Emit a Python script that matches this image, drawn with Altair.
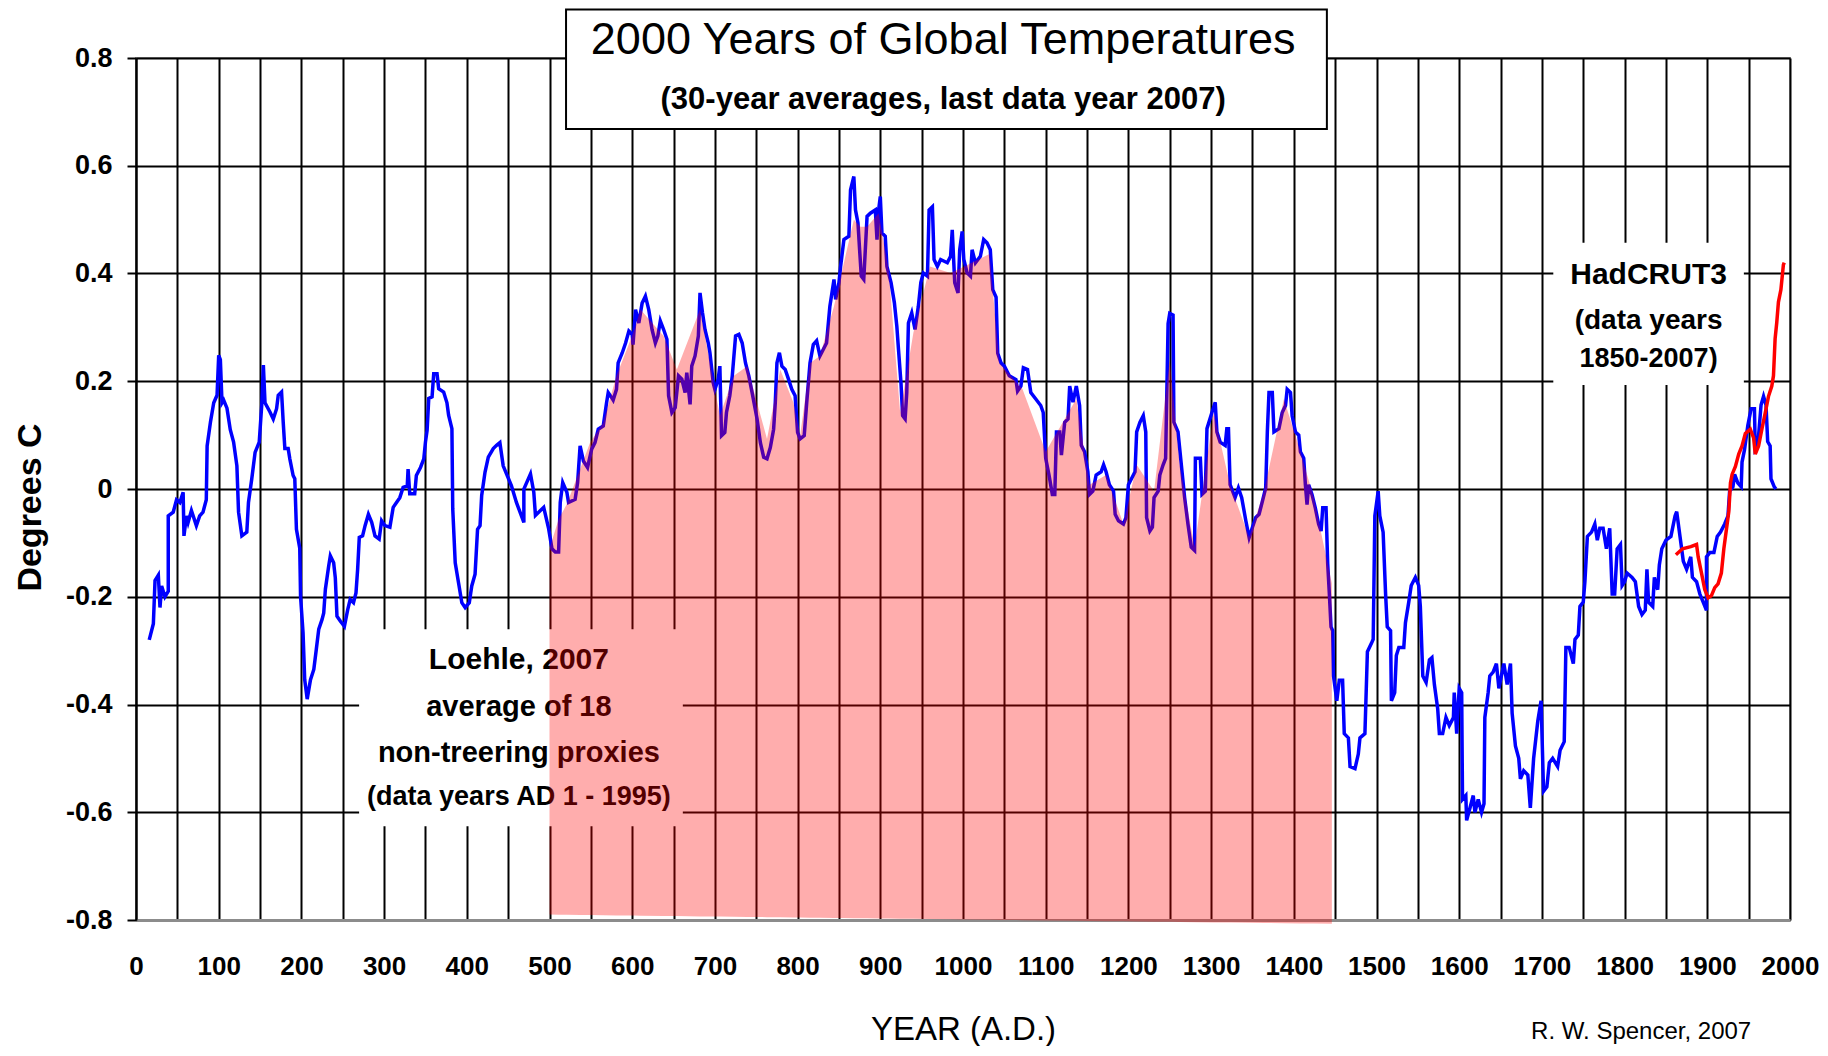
import altair as alt
import pandas as pd

# ---------------- data ----------------
# Loehle (2007) 30-year averages (blue)
loehle_year = [16, 21, 23, 27, 29, 31, 35, 39, 39, 45, 49, 53, 57, 58, 61, 63, 67, 73, 77, 81, 85, 86, 90, 94, 98,
               100, 102, 104, 106, 110, 114, 118, 122, 124, 128, 134, 136, 140, 144, 149, 152, 154, 156, 162, 166,
               170, 172, 176, 178, 180, 184, 186, 190, 192, 194, 198, 199, 202, 204, 207, 211, 215, 218, 221, 225,
               227, 229, 233, 235, 239, 241, 243, 247, 252, 256, 259, 263, 266, 268, 270, 274, 277, 281, 285, 289,
               294, 297, 301, 307, 311, 315, 319, 323, 328, 329, 331, 337, 339, 344, 348, 350, 352, 354, 358, 360,
               364, 366, 372, 376, 378, 382, 383, 386, 390, 394, 398, 403, 406, 410, 413, 416, 418, 422, 426, 432,
               436, 440, 444, 454, 460, 469, 469, 477, 481, 483, 493, 499, 503, 507, 511, 513, 516, 521, 523, 531,
               534, 537, 541, 546, 551, 555, 559, 565, 569, 571, 575, 577, 581, 583, 588, 592, 596, 600, 601, 604,
               608, 612, 616, 620, 624, 628, 631, 634, 638, 642, 644, 648, 652, 656, 660, 664, 666, 670, 672, 676,
               680, 682, 685, 688, 692, 694, 698, 700, 704, 706, 708, 712, 714, 718, 721, 725, 729, 733, 737, 741,
               745, 751, 755, 759, 763, 767, 771, 773, 775, 778, 781, 785, 789, 793, 797, 800, 803, 808, 811, 815,
               819, 823, 827, 831, 835, 839, 844, 846, 850, 852, 856, 862, 864, 868, 870, 873, 875, 877, 880, 884,
               888, 894, 896, 898, 900, 902, 906, 908, 913, 917, 920, 922, 925, 927, 930, 932, 934, 938, 942, 946,
               949, 952, 957, 959, 963, 965, 969, 973, 981, 985, 987, 990, 994, 996, 999, 1001, 1005, 1009, 1011,
               1015, 1021, 1025, 1029, 1033, 1036, 1040, 1042, 1046, 1050, 1056, 1064, 1066, 1070, 1073, 1078,
               1082, 1088, 1094, 1097, 1100, 1104, 1108, 1111, 1113, 1117, 1119, 1123, 1127, 1129, 1133, 1137,
               1141, 1143, 1147, 1151, 1153, 1157, 1161, 1167, 1170, 1173, 1177, 1182, 1184, 1188, 1194, 1197,
               1200, 1204, 1208, 1210, 1214, 1218, 1221, 1222, 1226, 1229, 1231, 1236, 1238, 1242, 1245, 1248,
               1250, 1254, 1255, 1260, 1264, 1268, 1272, 1276, 1280, 1281, 1287, 1289, 1293, 1295, 1301, 1305,
               1307, 1311, 1317, 1319, 1321, 1323, 1329, 1333, 1337, 1342, 1346, 1350, 1354, 1358, 1362, 1366,
               1368, 1370, 1374, 1376, 1382, 1386, 1390, 1392, 1396, 1398, 1402, 1406, 1408, 1412, 1414, 1416,
               1418, 1422, 1426, 1430, 1433, 1435, 1439, 1441, 1443, 1445, 1447, 1448, 1452, 1455, 1459, 1461,
               1466, 1468, 1474, 1478, 1480, 1486, 1489, 1494, 1496, 1498, 1502, 1504, 1508, 1511, 1513, 1517,
               1518, 1522, 1524, 1527, 1533, 1535, 1539, 1542, 1547, 1551, 1553, 1556, 1560, 1564, 1567, 1570,
               1574, 1576, 1580, 1584, 1588, 1593, 1594, 1597, 1600, 1603, 1604, 1608, 1609, 1613, 1617, 1619,
               1623, 1627, 1630, 1631, 1635, 1637, 1641, 1645, 1648, 1654, 1658, 1662, 1664, 1668, 1672, 1674,
               1678, 1683, 1686, 1690, 1695, 1699, 1702, 1706, 1709, 1713, 1719, 1722, 1727, 1729, 1733, 1738,
               1740, 1744, 1746, 1750, 1752, 1755, 1760, 1764, 1767, 1770, 1774, 1778, 1782, 1785, 1788, 1791,
               1795, 1797, 1800, 1803, 1809, 1813, 1817, 1821, 1825, 1827, 1829, 1834, 1836, 1840, 1842, 1845,
               1850, 1856, 1861, 1863, 1867, 1871, 1875, 1880, 1882, 1887, 1891, 1895, 1899, 1899, 1903, 1908,
               1912, 1916, 1921, 1925, 1927, 1931, 1933, 1937, 1941, 1942, 1945, 1949, 1953, 1957, 1958, 1961,
               1965, 1968, 1971, 1973, 1976, 1977, 1981, 1983]
loehle_temp = [-0.28, -0.25, -0.17, -0.16, -0.22, -0.18, -0.2, -0.19, -0.05, -0.043, -0.02, -0.025, -0.006, -0.087,
               -0.05, -0.062, -0.04, -0.068, -0.05, -0.043, -0.02, 0.08, 0.124, 0.16, 0.174, 0.248, 0.24, 0.16,
               0.165, 0.15, 0.11, 0.087, 0.043, -0.043, -0.087, -0.08, -0.025, 0.019, 0.068, 0.087, 0.155, 0.23,
               0.16, 0.143, 0.13, 0.149, 0.174, 0.18, 0.124, 0.075, 0.075, 0.056, 0.025, 0.019, -0.075, -0.11,
               -0.2, -0.267, -0.354, -0.39, -0.354, -0.335, -0.298, -0.26, -0.242, -0.23, -0.186, -0.143, -0.124,
               -0.137, -0.165, -0.236, -0.245, -0.255, -0.224, -0.205, -0.211, -0.193, -0.149, -0.09, -0.087,
               -0.068, -0.047, -0.062, -0.087, -0.093, -0.059, -0.068, -0.071, -0.034, -0.025, -0.016, 0.003,
               0.006, 0.037, -0.009, -0.009, 0.025, 0.04, 0.056, 0.087, 0.109, 0.168, 0.171, 0.214, 0.214, 0.186,
               0.18, 0.16, 0.137, 0.112, -0.037, -0.137, -0.174, -0.211, -0.22, -0.211, -0.18, -0.158, -0.075,
               -0.068, -0.012, 0.031, 0.059, 0.075, 0.081, 0.086, 0.043, 0.006, -0.025, -0.062, 0.0, 0.028,
               -0.006, -0.049, -0.034, -0.074, -0.111, -0.117, -0.117, -0.025, 0.012, -0.006, -0.025, -0.019,
               0.012, 0.08, 0.052, 0.04, 0.074, 0.086, 0.111, 0.117, 0.16, 0.179, 0.17, 0.165, 0.185, 0.234,
               0.253, 0.271, 0.293, 0.287, 0.268, 0.333, 0.308, 0.345, 0.358, 0.333, 0.296, 0.271, 0.284, 0.312,
               0.296, 0.278, 0.173, 0.142, 0.151, 0.21, 0.204, 0.179, 0.216, 0.157, 0.228, 0.247, 0.284, 0.364,
               0.327, 0.296, 0.271, 0.253, 0.197, 0.185, 0.204, 0.228, 0.099, 0.105, 0.142, 0.173, 0.21, 0.284,
               0.287, 0.271, 0.234, 0.21, 0.179, 0.13, 0.086, 0.059, 0.056, 0.077, 0.111, 0.16, 0.234, 0.253,
               0.228, 0.222, 0.204, 0.185, 0.173, 0.105, 0.093, 0.099, 0.16, 0.234, 0.268, 0.275, 0.247, 0.259,
               0.271, 0.339, 0.389, 0.352, 0.383, 0.413, 0.463, 0.469, 0.555, 0.58, 0.518, 0.494, 0.444, 0.395,
               0.389, 0.506, 0.512, 0.518, 0.463, 0.518, 0.543, 0.475, 0.469, 0.413, 0.383, 0.346, 0.302, 0.259,
               0.197, 0.136, 0.13, 0.179, 0.308, 0.327, 0.296, 0.339, 0.383, 0.401, 0.395, 0.518, 0.524, 0.426,
               0.413, 0.426, 0.42, 0.432, 0.481, 0.383, 0.364, 0.444, 0.478, 0.426, 0.401, 0.395, 0.444, 0.42,
               0.432, 0.463, 0.457, 0.444, 0.37, 0.356, 0.252, 0.234, 0.228, 0.21, 0.203, 0.182, 0.191, 0.225,
               0.222, 0.179, 0.167, 0.155, 0.142, 0.057, 0.026, -0.01, -0.01, 0.106, 0.106, 0.063, 0.124, 0.13,
               0.191, 0.161, 0.191, 0.155, 0.081, 0.069, 0.032, -0.01, -0.004, 0.026, 0.032, 0.045, 0.032, 0.008,
               -0.004, -0.047, -0.059, -0.065, -0.053, 0.008, 0.02, 0.032, 0.106, 0.124, 0.136, 0.106, -0.053,
               -0.078, -0.071, -0.016, -0.004, 0.026, 0.045, 0.057, 0.307, 0.326, 0.323, 0.124, 0.106, 0.045,
               -0.016, -0.065, -0.108, -0.114, 0.057, 0.057, -0.01, -0.004, 0.112, 0.142, 0.161, 0.106, 0.087,
               0.081, 0.112, 0.112, 0.008, -0.016, 0.002, -0.016, -0.059, -0.09, -0.071, -0.053, -0.047, -0.023,
               0.002, 0.106, 0.179, 0.179, 0.106, 0.112, 0.142, 0.155, 0.185, 0.179, 0.136, 0.106, 0.1, 0.069,
               0.057, 0.008, -0.029, 0.008, -0.01, -0.035, -0.065, -0.078, -0.035, -0.035, -0.139, -0.195, -0.256,
               -0.263, -0.347, -0.393, -0.355, -0.355, -0.454, -0.462, -0.515, -0.519, -0.492, -0.462, -0.454,
               -0.302, -0.286, -0.279, -0.05, -0.004, -0.05, -0.08, -0.195, -0.256, -0.263, -0.393, -0.378,
               -0.309, -0.294, -0.294, -0.248, -0.21, -0.179, -0.164, -0.179, -0.218, -0.347, -0.359, -0.317,
               -0.313, -0.363, -0.408, -0.454, -0.454, -0.424, -0.439, -0.424, -0.378, -0.454, -0.37, -0.378,
               -0.576, -0.569, -0.615, -0.592, -0.569, -0.6, -0.576, -0.6, -0.584, -0.424, -0.378, -0.347, -0.34,
               -0.324, -0.37, -0.324, -0.363, -0.324, -0.416, -0.477, -0.5, -0.538, -0.523, -0.531, -0.592, -0.5,
               -0.431, -0.393, -0.561, -0.553, -0.508, -0.5, -0.515, -0.485, -0.469, -0.294, -0.294, -0.324,
               -0.279, -0.271, -0.218, -0.21, -0.172, -0.088, -0.08, -0.065, -0.095, -0.073, -0.073, -0.111,
               -0.073, -0.195, -0.195, -0.111, -0.103, -0.179, -0.172, -0.156, -0.164, -0.172, -0.218, -0.233,
               -0.225, -0.149, -0.21, -0.218, -0.164, -0.187, -0.141, -0.111, -0.095, -0.088, -0.05, -0.042,
               -0.088, -0.134, -0.149, -0.126, -0.164, -0.172, -0.195, -0.21, -0.225, -0.126, -0.118, -0.118,
               -0.088, -0.08, -0.065, -0.05, -0.004, 0.004, 0.027, 0.011, 0.004, 0.05, 0.073, 0.118, 0.149, 0.149,
               0.073, 0.08, 0.156, 0.172, 0.156, 0.088, 0.08, 0.019, 0.004, 0.0]

# HadCRUT3 30-year averages (red)
had_year = [1862, 1870, 1880, 1887, 1889, 1893, 1897, 1901, 1905, 1909, 1913, 1917, 1920, 1924, 1926, 1928,
            1930, 1934, 1938, 1942, 1946, 1952, 1956, 1958, 1962, 1966, 1970, 1974, 1978, 1980, 1982, 1984,
            1986, 1989, 1992, 1993]
had_temp = [-0.122, -0.111, -0.107, -0.103, -0.126, -0.156, -0.187, -0.202, -0.198, -0.183, -0.176, -0.156,
            -0.111, -0.065, -0.042, 0.011, 0.027, 0.042, 0.065, 0.08, 0.103, 0.111, 0.095, 0.065, 0.08, 0.111,
            0.141, 0.172, 0.191, 0.21, 0.279, 0.309, 0.347, 0.37, 0.416, 0.42]

# shaded (pink) region outline, AD 500 - 1446
pink_year = [500, 511, 521, 537, 549, 565, 581, 602, 610, 638, 654, 682, 706, 723, 739, 763, 779, 795, 803,
             815, 827, 844, 856, 868, 876, 884, 898, 910, 924, 940, 960, 985, 999, 1032, 1044, 1072, 1100,
             1137, 1153, 1173, 1194, 1210, 1231, 1250, 1262, 1280, 1303, 1323, 1346, 1364, 1388, 1408, 1424,
             1446]
pink_top = [-0.111, -0.056, -0.028, 0.037, 0.086, 0.123, 0.21, 0.293, 0.333, 0.284, 0.222, 0.333, 0.136,
            0.21, 0.228, 0.093, 0.222, 0.16, 0.099, 0.234, 0.247, 0.339, 0.42, 0.5, 0.487, 0.487, 0.512, 0.407,
            0.142, 0.29, 0.413, 0.401, 0.411, 0.436, 0.234, 0.185, 0.069, 0.167, 0.008, 0.026, -0.065, 0.045,
            -0.004, 0.24, 0.045, -0.108, 0.142, 0.008, -0.09, -0.004, 0.167, 0.069, -0.016, -0.175]
pink_base_start = -0.79
pink_base_end = -0.807

x_grid_years = list(range(0, 2001, 50))
y_tick_values = [-0.8, -0.6, -0.4, -0.2, 0, 0.2, 0.4, 0.6, 0.8]

# ---------------- styling ----------------
SANS = "Liberation Sans, Arial, sans-serif"

xscale = alt.Scale(domain=[0, 2000], nice=False, zero=False)
yscale = alt.Scale(domain=[-0.8, 0.8], nice=False, zero=False)

xaxis = alt.Axis(
    values=x_grid_years, grid=True, gridColor="black", gridWidth=2, gridOpacity=1,
    ticks=False, tickSize=0, domainColor="#8c8c8c", domainWidth=3,
    labelExpr="datum.value % 100 == 0 ? format(datum.value, 'd') : ''",
    labelFont=SANS, labelFontWeight="bold", labelFontSize=26, labelColor="black",
    labelPadding=33, labelOverlap=False, labelFlush=False,
    title="YEAR (A.D.)", titleFont=SANS, titleFontSize=33, titleFontWeight="normal",
    titleColor="black", titleX=827, titleY=109, titleAlign="center", titleBaseline="middle",
)
yaxis = alt.Axis(
    values=y_tick_values, grid=True, gridColor="black", gridWidth=2, gridOpacity=1,
    ticks=True, tickSize=9, tickWidth=2, tickColor="black",
    domainColor="black", domainWidth=2,
    labelExpr="datum.value == 0 ? '0' : (datum.value < 0 ? '-' : '') + format(abs(datum.value), '.1f')",
    labelFont=SANS, labelFontWeight="bold", labelFontSize=27, labelColor="black",
    labelPadding=15, labelOverlap=False, labelFlush=False,
    title="Degrees C", titleFont=SANS, titleFontSize=34, titleFontWeight="bold", titleColor="black",
    titleAngle=270, titleX=-106, titleY=449, titleAlign="center", titleBaseline="middle",
)

X = alt.X("year:Q", scale=xscale, axis=xaxis)
Y = alt.Y("temp:Q", scale=yscale, axis=yaxis)

# ---------------- layers ----------------
boxes = pd.DataFrame({
    "year": [520, 271, 1715],
    "year2": [1440, 660, 1943],
    "temp": [0.668, -0.262, 0.195],
    "temp2": [0.89, -0.624, 0.455],
    "stroke": ["black", "white", "white"],
})
box_layer = alt.Chart(boxes).mark_rect(fill="white", strokeWidth=2).encode(
    x=X, x2="year2:Q", y=Y, y2="temp2:Q",
    stroke=alt.Stroke("stroke:N", scale=None),
)


def text_layer(year, temp, label, size, weight="bold", font=SANS, align="center"):
    df = pd.DataFrame({"year": [year], "temp": [temp], "label": [label]})
    return alt.Chart(df).mark_text(
        font=font, fontSize=size, fontWeight=weight, color="black",
        align=align, baseline="middle",
    ).encode(x=X, y=Y, text="label:N")


texts = [
    text_layer(463, -0.317, "Loehle, 2007", 30),
    text_layer(463, -0.405, "average of 18", 29),
    text_layer(463, -0.49, "non-treering proxies", 29),
    text_layer(463, -0.572, "(data years AD 1 - 1995)", 27),
    text_layer(1829, 0.398, "HadCRUT3", 30),
    text_layer(1829, 0.312, "(data years", 28),
    text_layer(1829, 0.241, "1850-2007)", 27),
    text_layer(976, 0.833, "2000 Years of Global Temperatures", 45, weight="normal"),
    text_layer(976, 0.722, "(30-year averages, last data year 2007)", 31),
    text_layer(1820, -1.008, "R. W. Spencer, 2007", 24, weight="normal"),
]

blue_df = pd.DataFrame({"year": loehle_year, "temp": loehle_temp, "idx": range(len(loehle_year))})
blue = alt.Chart(blue_df).mark_line(color="#0000FF", strokeWidth=3.5, strokeJoin="miter").encode(
    x=X, y=Y, order="idx:Q"
)

red_df = pd.DataFrame({"year": had_year, "temp": had_temp, "idx": range(len(had_year))})
red = alt.Chart(red_df).mark_line(color="#FF0000", strokeWidth=3.5).encode(
    x=X, y=Y, order="idx:Q"
)

pink_df = pd.DataFrame({"year": pink_year, "temp": pink_top})
pink = alt.Chart(pink_df).transform_calculate(
    base=f"{pink_base_start} + (datum.year - {pink_year[0]}) * ({pink_base_end} - ({pink_base_start})) / ({pink_year[-1]} - {pink_year[0]})"
).mark_area(color="#FF0000", opacity=0.32, clip=False).encode(
    x=X, y=Y, y2="base:Q"
)

chart = alt.layer(box_layer, *texts, blue, red, pink).properties(
    width=1654, height=862,
    padding={"left": 128, "top": 50, "right": 30, "bottom": 126},
    autosize=alt.AutoSizeParams(type="none"),
    background="white",
).configure_view(stroke="#999999", strokeWidth=2)

chart.save("out.html", embed_options={"renderer": "svg", "actions": False})
